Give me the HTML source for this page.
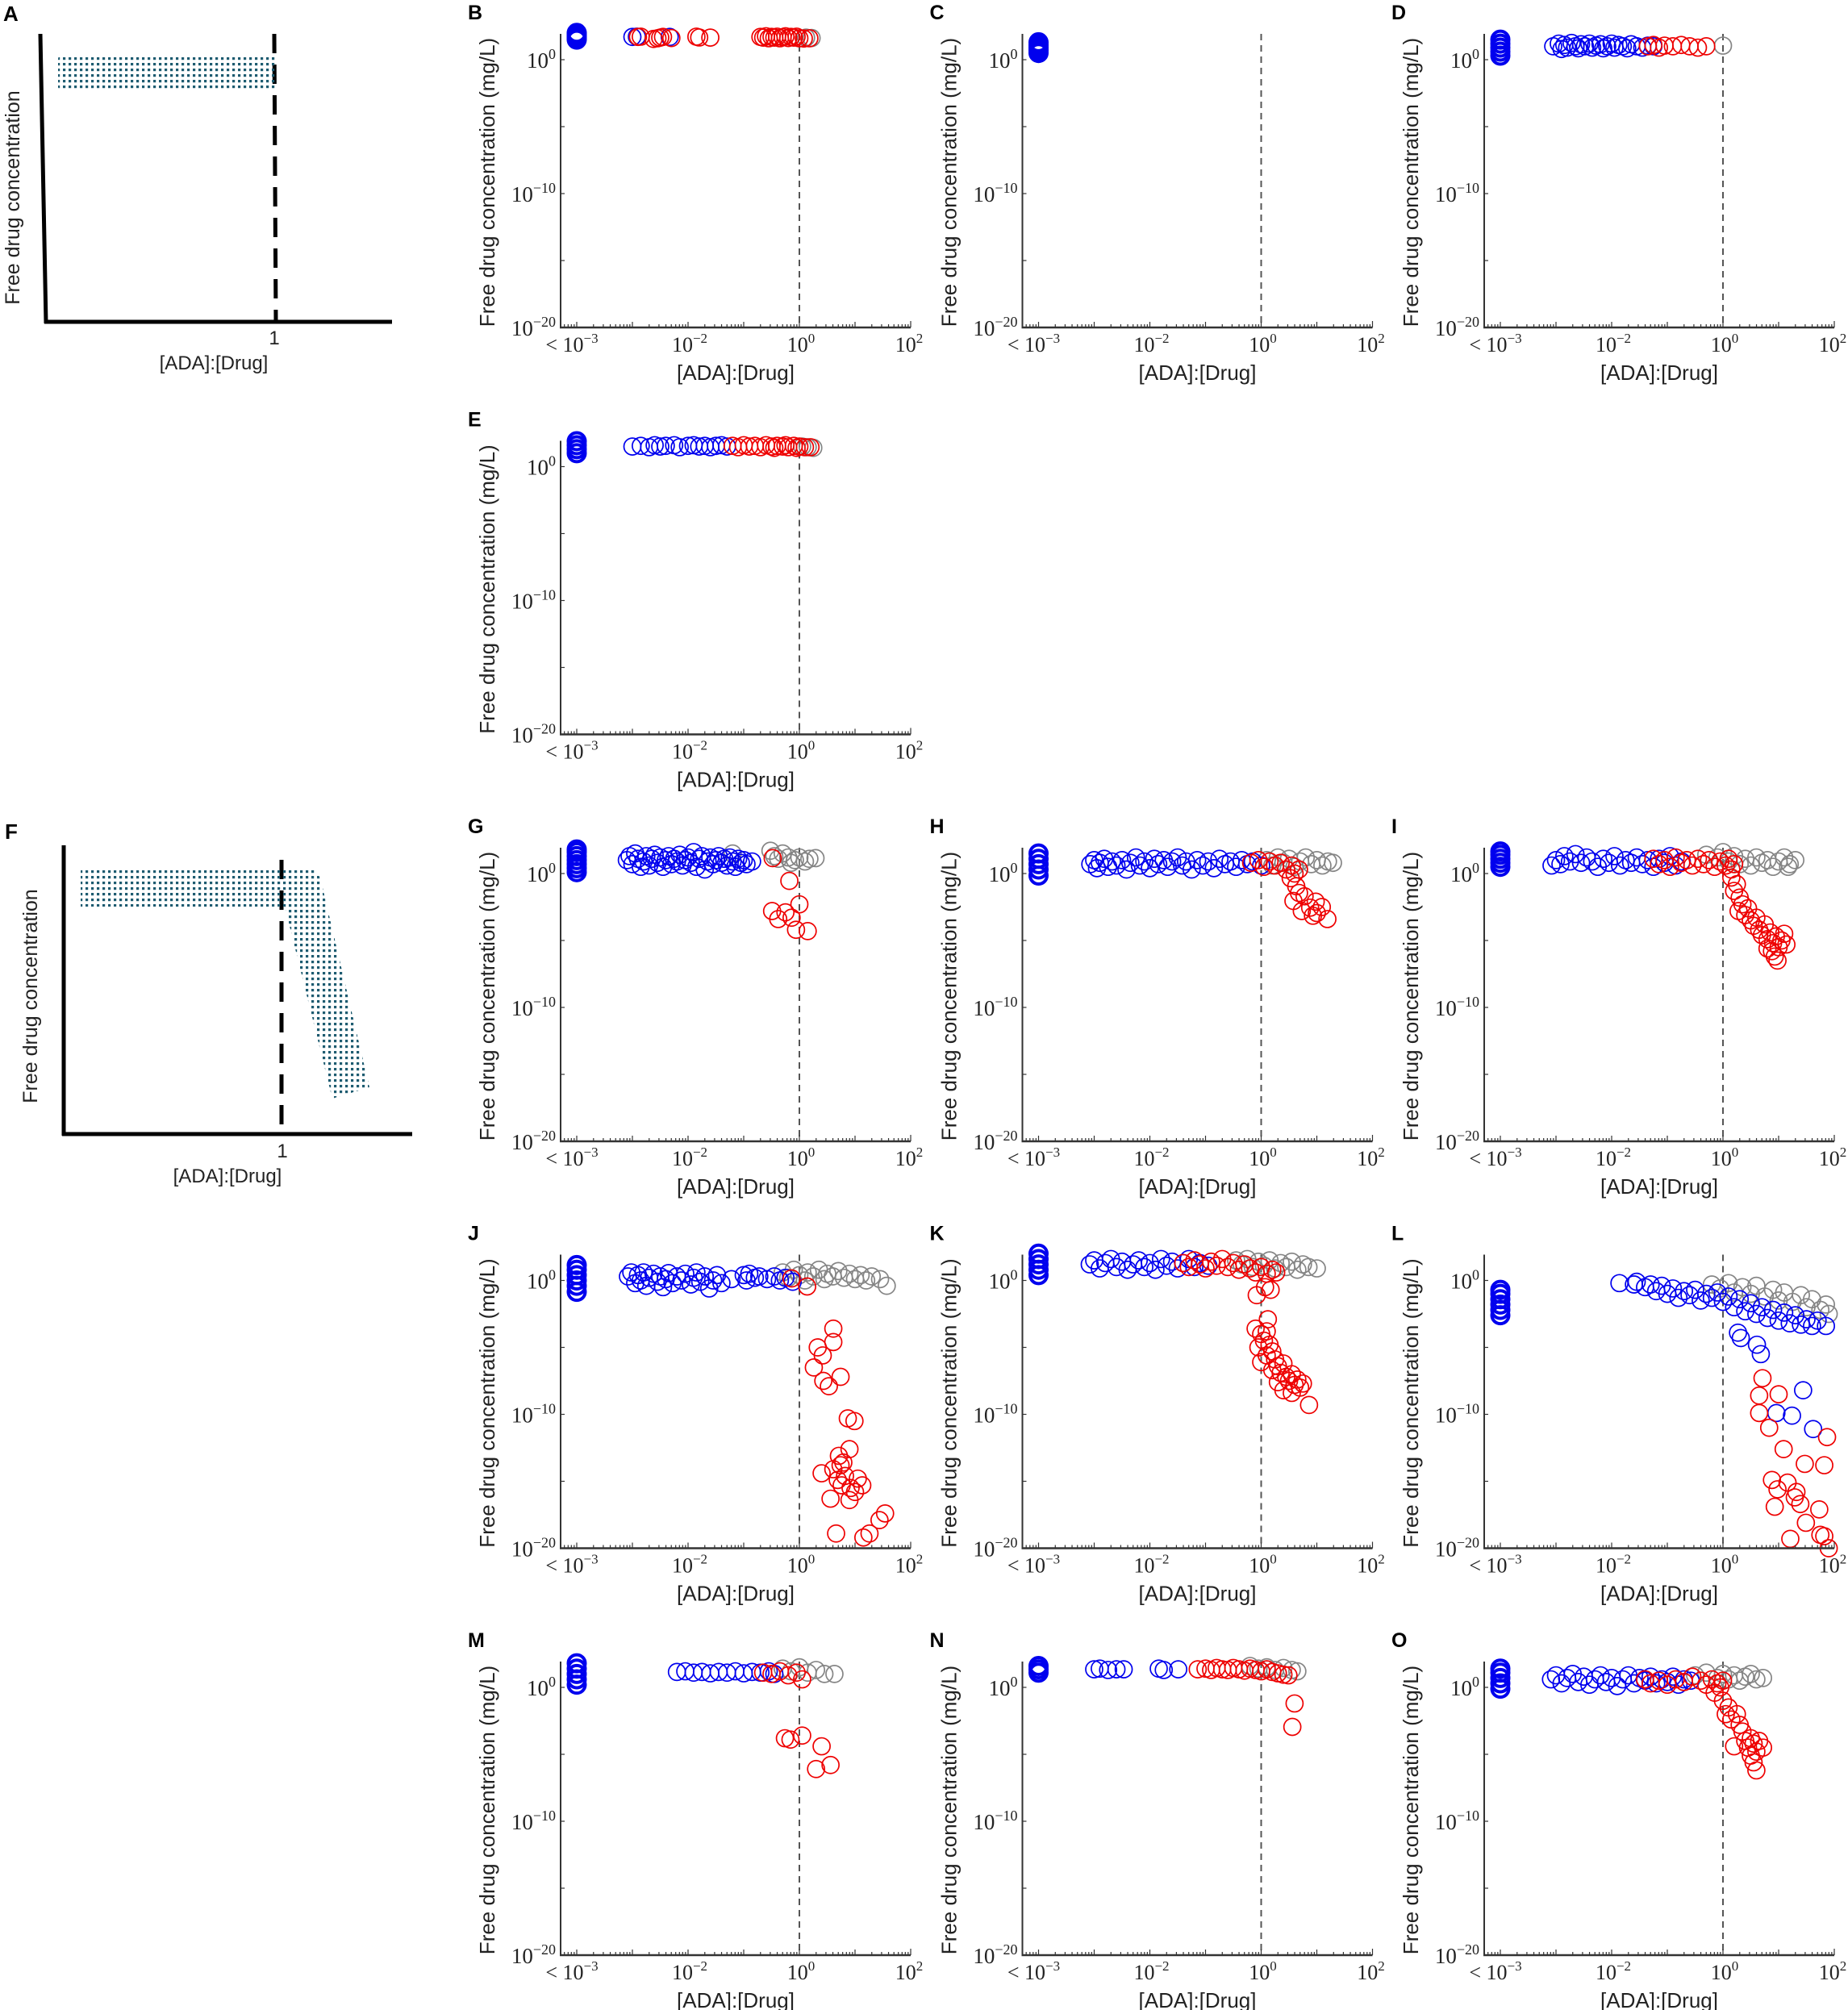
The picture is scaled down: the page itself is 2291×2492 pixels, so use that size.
<!DOCTYPE html>
<html><head><meta charset="utf-8"><style>
html,body{margin:0;padding:0;background:#fff}
svg{display:block}
</style></head><body>
<svg id="fig" xmlns="http://www.w3.org/2000/svg" width="2291" height="2492" viewBox="0 0 2291 2492">
<defs>
<pattern id="dots" width="7" height="7" patternUnits="userSpaceOnUse"><rect x="1" y="1" width="3.2" height="3.2" fill="#1d5b70"/></pattern>
</defs>
<rect width="2291" height="2492" fill="#fff"/>
<g font-family="'Liberation Sans',sans-serif">
<text x="4" y="26" font-size="26" font-weight="bold">A</text>
<line x1="50" y1="42" x2="57" y2="401" stroke="#000" stroke-width="5"/>
<line x1="55" y1="399" x2="486" y2="399" stroke="#000" stroke-width="5"/>
<line x1="340" y1="42" x2="342" y2="399" stroke="#000" stroke-width="5" stroke-dasharray="24,14"/>
<rect x="72" y="68" width="270" height="45" rx="5" fill="url(#dots)"/>
<text x="340" y="427" font-size="24" text-anchor="middle" fill="#222">1</text>
<text x="265" y="458" font-size="24" text-anchor="middle" fill="#222">[ADA]:[Drug]</text>
<text transform="translate(24,245) rotate(-90)" font-size="25" text-anchor="middle" fill="#222">Free drug concentration</text>
</g>
<g font-family="'Liberation Sans',sans-serif">
<text x="6" y="1040" font-size="26" font-weight="bold">F</text>
<line x1="79" y1="1048" x2="79" y2="1408" stroke="#000" stroke-width="5"/>
<line x1="77" y1="1406" x2="511" y2="1406" stroke="#000" stroke-width="5"/>
<line x1="349" y1="1066" x2="349" y2="1406" stroke="#000" stroke-width="5" stroke-dasharray="24,14"/>
<path d="M100,1076 L388,1076 L397,1088 L458,1348 L412,1362 L353,1124 L100,1124 Z" fill="url(#dots)"/>
<text x="350" y="1435" font-size="24" text-anchor="middle" fill="#222">1</text>
<text x="282" y="1466" font-size="24" text-anchor="middle" fill="#222">[ADA]:[Drug]</text>
<text transform="translate(46,1235) rotate(-90)" font-size="25" text-anchor="middle" fill="#222">Free drug concentration</text>
</g>
<g id="plots"></g>
</svg>
<script>
// Data: pairs [log10 x, log10 y]; x = -4 means "< 10^-3". Stacks are log10 y at x < 10^-3.
const B_stack=[1.5,1.6,1.7,1.8,1.9,2.0];
const B_blue=[-3.0,1.7,-2.92,1.72,-2.33,1.7];
const B_gray=[0.12,1.65,0.22,1.62];
const B_red=[-2.9,1.7,-2.85,1.72,-2.62,1.55,-2.55,1.6,-2.5,1.65,-2.45,1.7,-2.3,1.62,-1.85,1.72,-1.8,1.66,-1.6,1.65,-0.7,1.7,-0.65,1.65,-0.6,1.75,-0.55,1.6,-0.5,1.7,-0.45,1.65,-0.4,1.72,-0.35,1.6,-0.3,1.68,-0.25,1.75,-0.2,1.62,-0.15,1.7,-0.1,1.65,-0.05,1.72,0.0,1.6,0.08,1.58,0.18,1.6];
const C_stack=[0.5,0.7,0.9,1.1,1.3];
const C_blue=[];
const C_gray=[];
const C_red=[];
const D_stack=[0.3,0.6,0.9,1.2,1.5];
const D_blue=[-3.05,1.0,-2.95,1.2,-2.9,0.8,-2.85,1.1,-2.8,0.9,-2.72,1.25,-2.65,1.0,-2.6,0.85,-2.55,1.15,-2.48,1.0,-2.4,1.2,-2.35,0.9,-2.28,1.05,-2.2,1.15,-2.15,0.85,-2.08,1.0,-2.0,1.2,-1.95,0.9,-1.88,1.1,-1.8,1.0,-1.72,0.85,-1.65,1.15,-1.55,1.0,-1.45,0.9,-1.35,1.05,-1.25,1.0];
const D_gray=[0.0,1.05];
const D_red=[-1.35,1.0,-1.25,1.1,-1.15,0.9,-1.05,1.05,-0.9,1.0,-0.75,1.1,-0.6,1.0,-0.45,0.9,-0.3,1.0];
const E_stack=[1.0,1.3,1.6,1.9];
const E_blue=[-3.0,1.5,-2.85,1.55,-2.7,1.45,-2.6,1.6,-2.5,1.5,-2.4,1.55,-2.25,1.6,-2.15,1.45,-2.0,1.55,-1.9,1.6,-1.8,1.5,-1.7,1.55,-1.6,1.45,-1.5,1.55,-1.4,1.6,-1.3,1.5];
const E_gray=[0.05,1.5,0.15,1.45,0.25,1.4];
const E_red=[-1.2,1.55,-1.1,1.45,-1.0,1.6,-0.9,1.5,-0.8,1.55,-0.7,1.45,-0.6,1.6,-0.5,1.5,-0.45,1.4,-0.4,1.55,-0.3,1.5,-0.25,1.6,-0.2,1.45,-0.1,1.55,-0.05,1.4,0.0,1.5,0.1,1.45,0.2,1.45];
const G_stack=[0.1,0.4,0.7,1.0,1.3,1.6,1.8];
const G_blue=[-3.1,1.0,-3.05,1.3,-3.0,0.7,-2.95,1.5,-2.9,1.1,-2.85,0.5,-2.8,0.9,-2.75,1.3,-2.7,0.6,-2.65,1.1,-2.6,1.4,-2.55,0.8,-2.5,1.2,-2.45,0.5,-2.4,1.0,-2.35,1.3,-2.3,0.7,-2.25,1.1,-2.2,0.9,-2.15,1.4,-2.1,0.6,-2.05,1.0,-2.0,1.2,-1.95,0.8,-1.9,1.6,-1.85,0.5,-1.8,1.1,-1.75,1.3,-1.7,0.3,-1.65,0.9,-1.6,1.2,-1.55,0.7,-1.5,1.0,-1.45,1.3,-1.4,0.8,-1.35,1.1,-1.3,0.6,-1.25,1.2,-1.2,0.9,-1.15,0.5,-1.1,1.1,-1.05,0.8,-1.0,1.0,-0.95,0.7,-0.85,0.9];
const G_gray=[-1.2,1.5,-0.52,1.7,-0.45,1.3,-0.38,1.1,-0.3,1.5,-0.2,1.2,-0.15,0.8,-0.08,1.0,0.0,1.2,0.1,0.9,0.18,1.1,0.29,1.15];
const G_red=[-0.48,1.15,-0.18,-0.55,0.0,-2.3,-0.49,-2.8,-0.38,-3.4,-0.25,-2.9,-0.14,-3.3,-0.06,-4.2,0.15,-4.3];
const H_stack=[-0.15,0.3,0.7,1.1,1.5];
const H_blue=[-3.07,0.7,-3.0,1.0,-2.95,0.4,-2.9,0.8,-2.82,1.1,-2.75,0.5,-2.68,0.9,-2.6,0.6,-2.5,1.0,-2.42,0.3,-2.35,0.8,-2.25,1.2,-2.18,0.6,-2.1,0.9,-2.0,0.4,-1.92,1.1,-1.85,0.7,-1.75,1.0,-1.68,0.5,-1.6,0.9,-1.5,1.2,-1.42,0.6,-1.35,0.9,-1.25,0.3,-1.15,1.0,-1.05,0.6,-0.95,0.9,-0.85,0.4,-0.75,1.1,-0.65,0.7,-0.55,0.9,-0.45,0.5,-0.35,1.0,-0.25,0.7,-0.15,0.9,0.0,0.6];
const H_gray=[0.1,1.0,0.2,0.6,0.3,1.2,0.4,0.8,0.5,1.1,0.6,0.5,0.7,0.9,0.8,1.2,0.9,0.7,1.0,1.0,1.1,0.6,1.2,0.9,1.29,0.8];
const H_red=[-0.18,0.8,-0.05,1.0,0.05,0.5,0.15,0.9,0.25,0.6,0.35,0.8,0.45,0.3,0.55,0.6,0.6,0.0,0.68,0.3,0.53,-0.35,0.63,-0.95,0.68,-1.45,0.58,-2.05,0.78,-1.7,0.98,-2.1,0.88,-2.55,0.73,-2.8,1.09,-2.5,0.93,-3.15,1.19,-3.4,1.0,-2.95];
const I_stack=[0.5,0.8,1.1,1.4,1.65];
const I_blue=[-3.08,0.6,-3.0,1.0,-2.92,0.7,-2.85,1.3,-2.75,0.9,-2.65,1.45,-2.55,0.8,-2.45,1.2,-2.35,0.9,-2.25,0.5,-2.15,1.1,-2.05,0.8,-1.95,1.3,-1.85,0.6,-1.75,1.0,-1.65,0.8,-1.55,1.2,-1.45,0.7,-1.35,1.0,-1.25,0.5,-1.15,1.1,-1.05,0.8,-0.95,1.3,-0.85,0.6,-0.74,0.9];
const I_gray=[-0.3,1.4,-0.1,1.2,0.0,1.6,0.1,0.9,0.2,1.3,0.3,0.7,0.4,1.1,0.5,0.6,0.6,1.2,0.7,0.8,0.8,1.0,0.9,0.5,1.0,0.9,1.1,1.2,1.2,0.7,1.3,1.0,1.17,0.5];
const I_red=[-1.25,1.1,-1.15,0.7,-1.05,1.0,-0.95,0.5,-0.85,1.2,-0.75,0.8,-0.65,1.0,-0.55,0.6,-0.45,1.1,-0.35,0.7,-0.25,1.0,-0.15,0.5,-0.05,0.9,0.05,0.6,0.1,1.1,0.15,0.3,0.2,0.7,0.15,-0.3,0.25,-0.8,0.2,-1.3,0.3,-1.8,0.35,-2.3,0.28,-2.8,0.4,-3.1,0.45,-2.6,0.5,-3.5,0.55,-3.9,0.6,-3.3,0.65,-4.2,0.7,-4.6,0.75,-3.8,0.8,-4.9,0.85,-4.4,0.9,-5.2,0.95,-4.7,1.0,-5.5,1.05,-5.0,0.88,-5.8,0.93,-6.2,0.98,-6.5,1.1,-4.5,1.14,-5.3,0.8,-5.6];
const J_stack=[-0.85,-0.4,0.0,0.4,0.8,1.15];
const J_blue=[-3.08,0.3,-3.02,0.6,-2.95,-0.2,-2.9,0.4,-2.85,0.0,-2.8,0.6,-2.75,-0.4,-2.7,0.2,-2.62,0.5,-2.55,-0.1,-2.5,0.3,-2.45,-0.5,-2.4,0.1,-2.35,0.55,-2.28,-0.2,-2.2,0.3,-2.12,0.0,-2.05,0.5,-1.95,-0.3,-1.9,0.2,-1.85,0.6,-1.78,-0.1,-1.7,0.3,-1.62,-0.6,-1.55,0.0,-1.48,0.4,-1.4,-0.2,-1.22,0.1,-1.0,0.4,-0.95,0.0,-0.9,0.5,-0.8,0.2,-0.72,0.3,-0.58,0.1,-0.45,0.3,-0.35,0.0,-0.25,0.2,-0.12,-0.1];
const J_gray=[-0.3,0.6,-0.2,0.2,-0.1,0.8,0.0,0.4,0.1,0.0,0.15,0.6,0.25,0.3,0.35,0.8,0.45,0.1,0.5,0.5,0.6,0.3,0.7,0.7,0.8,0.2,0.9,0.5,1.0,0.1,1.1,0.4,1.2,0.0,1.3,0.3,1.45,0.1,1.57,-0.4];
const J_red=[-0.14,0.15,0.14,-0.45,0.61,-3.6,0.61,-4.6,0.33,-5.0,0.42,-5.6,0.26,-6.5,0.43,-7.5,0.53,-7.9,0.74,-7.2,0.87,-10.3,0.99,-10.5,0.9,-12.6,0.71,-13.1,0.79,-13.6,0.4,-14.4,0.61,-14.1,0.69,-14.9,0.76,-15.3,0.92,-15.5,1.05,-14.8,1.13,-15.3,1.0,-15.8,0.56,-16.3,0.9,-16.4,0.66,-18.9,1.15,-19.2,1.26,-18.9,1.44,-17.9,1.54,-17.4,0.74,-13.8,0.82,-14.6];
const K_stack=[0.4,0.8,1.2,1.6,2.0];
const K_blue=[-3.08,1.2,-3.0,1.5,-2.9,0.9,-2.8,1.3,-2.7,1.6,-2.6,1.0,-2.5,1.4,-2.4,0.8,-2.3,1.2,-2.2,1.5,-2.1,1.0,-2.0,1.3,-1.9,0.8,-1.8,1.6,-1.7,1.1,-1.6,1.4,-1.5,0.9,-1.4,1.3,-1.3,1.6,-1.2,1.0,-1.1,1.3,-0.95,1.1];
const K_gray=[-0.45,1.5,-0.35,1.2,-0.25,1.6,-0.15,1.0,-0.05,1.4,0.05,1.1,0.15,1.5,0.25,0.9,0.35,1.3,0.45,1.0,0.55,1.4,0.65,0.8,0.75,1.2,0.85,1.0,1.0,0.9];
const K_red=[-1.4,1.3,-1.3,1.0,-1.2,1.5,-1.1,1.2,-1.0,0.9,-0.9,1.4,-0.8,1.1,-0.7,1.6,-0.6,1.0,-0.5,1.3,-0.4,0.8,-0.3,1.2,-0.2,0.9,-0.1,0.6,0.0,1.0,0.1,0.5,0.2,0.8,0.27,0.6,0.07,-0.5,-0.08,-1.1,0.17,-0.7,0.12,-2.9,-0.1,-3.6,0.0,-4.0,0.1,-3.8,0.05,-4.5,-0.05,-5.0,0.15,-4.8,0.2,-5.3,0.1,-5.6,0.25,-5.9,0.0,-6.1,0.3,-6.4,0.2,-6.7,0.35,-6.9,0.4,-6.2,0.45,-7.2,0.5,-7.5,0.55,-7.0,0.6,-7.8,0.65,-7.4,0.7,-8.0,0.75,-7.7,0.4,-8.2,0.55,-8.4,0.3,-7.6,0.86,-9.3];
const L_stack=[-2.6,-2.2,-1.8,-1.4,-1.0,-0.7];
const L_blue=[-1.86,-0.2,-1.6,-0.3,-1.55,-0.1,-1.4,-0.5,-1.3,-0.3,-1.2,-0.8,-1.1,-0.4,-1.0,-1.0,-0.9,-0.6,-0.8,-1.3,-0.7,-0.8,-0.6,-1.1,-0.5,-0.7,-0.4,-1.5,-0.3,-1.0,-0.2,-1.3,-0.1,-0.9,0.0,-1.6,0.1,-1.2,0.2,-2.0,0.3,-1.4,0.4,-2.3,0.5,-1.7,0.6,-2.5,0.7,-2.0,0.8,-2.8,0.9,-2.2,1.0,-3.0,1.1,-2.4,1.2,-3.2,1.3,-2.6,1.4,-3.3,1.5,-2.9,1.6,-3.4,1.7,-3.0,1.85,-3.4,0.27,-3.9,0.32,-4.3,0.61,-4.8,0.68,-5.5,1.44,-8.2,0.96,-9.9,1.24,-10.1,1.62,-11.1];
const L_gray=[-0.2,-0.3,-0.05,-0.6,0.1,-0.2,0.2,-0.9,0.35,-0.5,0.5,-1.0,0.6,-0.4,0.75,-1.2,0.9,-0.7,1.0,-1.5,1.1,-0.9,1.25,-1.6,1.4,-1.1,1.5,-2.0,1.6,-1.4,1.75,-2.2,1.85,-1.8,1.9,-2.5];
const L_red=[0.71,-7.3,0.65,-8.6,1.0,-8.5,0.65,-9.9,0.83,-11.0,1.87,-11.7,1.09,-12.6,1.47,-13.7,1.82,-13.8,0.88,-14.9,1.16,-15.1,0.98,-15.6,1.32,-15.8,1.29,-16.2,0.93,-16.9,1.39,-16.7,1.73,-17.1,1.49,-18.1,1.75,-19.0,1.21,-19.3,1.9,-20.0,1.82,-19.1];
const M_stack=[0.2,0.6,1.0,1.4,1.8];
const M_blue=[-2.2,1.15,-2.05,1.2,-1.9,1.1,-1.75,1.15,-1.6,1.05,-1.45,1.15,-1.3,1.1,-1.15,1.2,-1.0,1.05,-0.85,1.15,-0.7,1.1,-0.55,1.2,-0.45,1.0];
const M_gray=[-0.3,1.4,-0.15,1.2,0.0,1.5,0.15,1.1,0.3,1.3,0.45,1.0,0.63,1.0];
const M_red=[-0.65,1.1,-0.5,1.0,-0.35,1.2,-0.2,0.9,-0.05,1.1,0.05,0.6,-0.26,-3.8,-0.16,-3.9,0.05,-3.6,0.4,-4.4,0.3,-6.1,0.56,-5.8];
const N_stack=[1.1,1.35,1.6];
const N_blue=[-3.0,1.35,-2.9,1.4,-2.75,1.3,-2.6,1.35,-2.47,1.35,-1.84,1.4,-1.75,1.3,-1.49,1.35];
const N_gray=[-0.2,1.6,-0.05,1.4,0.1,1.5,0.25,1.3,0.4,1.45,0.55,1.3,0.65,1.2];
const N_red=[-1.14,1.35,-1.0,1.4,-0.9,1.3,-0.8,1.45,-0.7,1.35,-0.6,1.3,-0.5,1.45,-0.4,1.35,-0.3,1.25,-0.2,1.4,-0.1,1.3,0.0,1.2,0.1,1.35,0.2,1.15,0.3,1.05,0.4,0.95,0.49,0.9,0.6,-1.2,0.56,-2.95];
const O_stack=[-0.1,0.3,0.7,1.1,1.4];
const O_blue=[-3.09,0.6,-3.0,0.9,-2.9,0.3,-2.8,0.7,-2.7,1.0,-2.6,0.4,-2.5,0.8,-2.4,0.2,-2.3,0.6,-2.2,0.9,-2.1,0.4,-2.0,0.7,-1.9,0.1,-1.8,0.6,-1.7,0.9,-1.6,0.3,-1.5,0.7,-1.4,0.5,-1.3,0.8,-1.2,0.3,-1.1,0.6,-1.0,0.4,-0.9,0.8,-0.8,0.2,-0.7,0.6,-0.58,0.5];
const O_gray=[-0.5,0.9,-0.3,1.1,-0.1,0.7,0.0,1.0,0.1,0.6,0.2,0.9,0.3,0.5,0.4,0.8,0.5,1.0,0.6,0.6,0.72,0.7];
const O_red=[-1.4,0.6,-1.3,0.3,-1.15,0.5,-1.0,0.2,-0.85,0.6,-0.7,0.4,-0.55,0.8,-0.4,0.5,-0.3,0.2,-0.2,0.6,-0.1,0.3,0.0,0.5,-0.05,0.0,-0.15,-0.4,0.0,-1.0,0.1,-1.5,0.05,-2.0,0.15,-2.4,0.25,-2.0,0.3,-2.8,0.35,-3.3,0.4,-4.0,0.2,-4.4,0.45,-4.5,0.5,-3.8,0.55,-4.2,0.6,-4.8,0.5,-5.1,0.65,-4.0,0.55,-5.6,0.6,-6.2,0.72,-4.5];
const yTickValues=[0,-10,-20];
const yTickLabels=["0","\u221210","\u221220"];
const xTickValues=[-4,-2,0,2];
const xTickLabels=["\u22123","\u22122","0","2"];

const NS="http://www.w3.org/2000/svg";
const root=document.getElementById('plots');
function mk(tag,attrs,parent){const e=document.createElementNS(NS,tag);for(const k in attrs)e.setAttribute(k,attrs[k]);parent.appendChild(e);return e;}
const colX=[695,1267.5,1840], rowY=[0,504.5,1009,1513.5,2018];
const panels=[
 ['B',0,0,B_stack,B_blue,B_gray,B_red],['C',1,0,C_stack,C_blue,C_gray,C_red],['D',2,0,D_stack,D_blue,D_gray,D_red],
 ['E',0,1,E_stack,E_blue,E_gray,E_red],
 ['G',0,2,G_stack,G_blue,G_gray,G_red],['H',1,2,H_stack,H_blue,H_gray,H_red],['I',2,2,I_stack,I_blue,I_gray,I_red],
 ['J',0,3,J_stack,J_blue,J_gray,J_red],['K',1,3,K_stack,K_blue,K_gray,K_red],['L',2,3,L_stack,L_blue,L_gray,L_red],
 ['M',0,4,M_stack,M_blue,M_gray,M_red],['N',1,4,N_stack,N_blue,N_gray,N_red],['O',2,4,O_stack,O_blue,O_gray,O_red]];
const R=10.5;
panels.forEach(p=>{
 const [L,ci,ri,stack,blue,gray,red]=p;
 const ox=colX[ci], oy=rowY[ri];
 const X=lx=>ox+296+lx*69;
 const Y=ly=>oy+74-ly*16.6;
 const g=mk('g',{},root);
 
 
 const lt=mk('text',{x:ox-115,y:oy+24,'font-family':"'Liberation Sans',sans-serif",'font-size':25,'font-weight':'bold'},g);
 
 
 lt.textContent=L;
 const dl=mk('line',{x1:X(0),y1:oy+42,x2:X(0),y2:oy+406,stroke:'#555','stroke-width':2,'stroke-dasharray':'8,6'},g);
 
 
 const drawSet=(arr,color,name)=>{
  for(let i=0;i+1<arr.length;i+=2){
   const c=mk('circle',{cx:X(arr[i]),cy:Y(arr[i+1]),r:R,fill:'none',stroke:color,'stroke-width':1.7},g);
   
   
  }
 };
 drawSet(gray,'#858585','point-gray');
 stack.forEach(v=>{
  const c=mk('circle',{cx:X(-4),cy:Y(v),r:R,fill:'none',stroke:'#0000ee','stroke-width':4},g);
  
  
 });
 drawSet(blue,'#0000ee','point-blue');
 drawSet(red,'#ee0000','point-red');
 const ya=mk('line',{x1:ox,y1:oy+42,x2:ox,y2:oy+407,stroke:'#333','stroke-width':2},g);
 
 
 const xa=mk('line',{x1:ox-1,y1:oy+406,x2:ox+434,y2:oy+406,stroke:'#333','stroke-width':2.5},g);
 
 
 for(let d=-5;d<=1;d++){for(let k=1;k<=9;k++){const v=d+Math.log10(k);if(v<-4.29||v>2)continue;
  const t=mk('line',{x1:X(v),y1:oy+406,x2:X(v),y2:oy+406-(k===1?7:4),stroke:'#333','stroke-width':1.2},g);
  
  }}
 const t2=mk('line',{x1:X(2),y1:oy+406,x2:X(2),y2:oy+398,stroke:'#333','stroke-width':1.2},g);
 
 
 [0,-5,-10,-15,-20].forEach(v=>{const t=mk('line',{x1:ox,y1:Y(v),x2:ox+5,y2:Y(v),stroke:'#333','stroke-width':1.2},g);
  
  });
 yTickValues.forEach((v,i)=>{
  const t=mk('text',{x:ox-6,y:Y(v)+10,'font-family':"'Liberation Serif',serif",'font-size':27,'text-anchor':'end',fill:'#222'},g);
  
  
  t.appendChild(document.createTextNode('10'));
  const s=mk('tspan',{'font-size':18,dy:-11},t);s.textContent=yTickLabels[i];
 });
 xTickValues.forEach((v,i)=>{
  const t=mk('text',{x:X(v)+(v===-4?-6:(v===2?-2:2)),y:oy+436,'font-family':"'Liberation Serif',serif",'font-size':26,'text-anchor':'middle',fill:'#222'},g);
  
  
  t.appendChild(document.createTextNode((v===-4?'< ':'')+'10'));
  const s=mk('tspan',{'font-size':17,dy:-11},t);s.textContent=xTickLabels[i];
 });
 const xl=mk('text',{x:ox+217,y:oy+471,'font-family':"'Liberation Sans',sans-serif",'font-size':26,'text-anchor':'middle',fill:'#222'},g);
 
 
 xl.textContent='[ADA]:[Drug]';
 const yl=mk('text',{transform:`translate(${ox-82},${oy+226}) rotate(-90)`,'font-family':"'Liberation Sans',sans-serif",'font-size':26,'text-anchor':'middle',fill:'#222'},g);
 
 
 yl.textContent='Free drug concentration (mg/L)';
});
</script>
</body></html>
